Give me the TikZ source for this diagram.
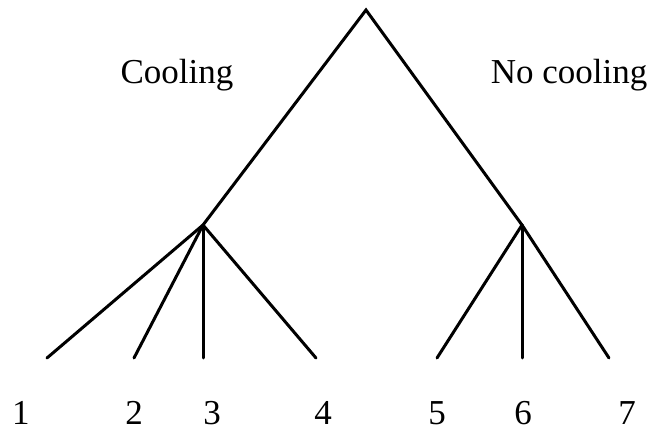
\documentclass[tikz,border=0pt]{standalone}
\usepackage{fontspec}
\setmainfont{Liberation Serif}
\usetikzlibrary{calc}

\begin{document}
\begin{tikzpicture}[x=1pt,y=-1pt,
		branch/.style={line width=3pt, line cap=round},
		lbl/.style={font=\fontsize{35}{40}\selectfont, inner sep=0pt}]
			\useasboundingbox (0,0) rectangle (667,435);
			\coordinate (apex) at (366,10);
			\coordinate (cool) at (203,225);
			\coordinate (nocool) at (522,225);
			\coordinate (l1) at (47,358);
			\coordinate (l2) at (134,358);
			\coordinate (l3) at (203,358);
			\coordinate (l4) at (316,358);
			\coordinate (l5) at (437,358);
			\coordinate (l6) at (522,358);
			\coordinate (l7) at (609,358);
			\draw[branch] (cool) -- (apex) -- (nocool);
			\foreach \i in {1,2,3,4} \draw[branch] (cool) -- (l\i);
			\foreach \i in {5,6,7} \draw[branch] (nocool) -- (l\i);
			\node[lbl] (tcool) at (177,75) {Cooling};
			\node[lbl] (tnocool) at (569,75) {No cooling};
			\foreach \i/\x in {1/21,2/134,3/212,4/323,5/437,6/523,7/627}
				\node[lbl] (n\i) at (\x,413) {\i};
		\end{tikzpicture}
\end{document}
